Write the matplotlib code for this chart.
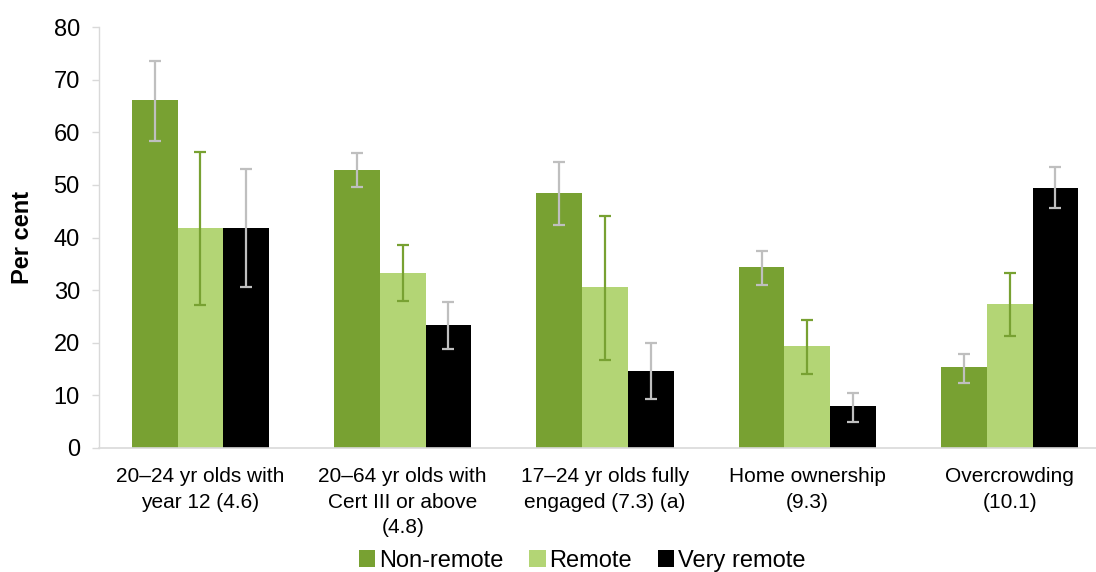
import matplotlib
matplotlib.use("Agg")
import matplotlib.pyplot as plt
import numpy as np

plt.rcParams['font.family'] = ['Liberation Sans', 'DejaVu Sans']

categories = [
    "20\u201324 yr olds with\nyear 12 (4.6)",
    "20\u201364 yr olds with\nCert III or above\n(4.8)",
    "17\u201324 yr olds fully\nengaged (7.3) (a)",
    "Home ownership\n(9.3)",
    "Overcrowding\n(10.1)",
]
series_names = ["Non-remote", "Remote", "Very remote"]

non_remote = [66.1, 52.9, 48.5, 34.3, 15.3]
non_remote_lo = [58.4, 49.6, 42.4, 30.9, 12.4]
non_remote_hi = [73.6, 56.0, 54.4, 37.5, 17.9]

remote = [41.9, 33.3, 30.5, 19.3, 27.4]
remote_lo = [27.2, 27.9, 16.7, 14.0, 21.3]
remote_hi = [56.3, 38.5, 44.1, 24.3, 33.3]

very_remote = [41.9, 23.4, 14.7, 7.9, 49.5]
very_remote_lo = [30.5, 18.8, 9.3, 4.9, 45.6]
very_remote_hi = [53.0, 27.7, 20.0, 10.5, 53.4]

bar_colors = ["#78A132", "#B3D575", "#000000"]
err_colors = ["#BFBFBF", "#78A132", "#BFBFBF"]

fig = plt.figure(figsize=(10.96, 5.72), dpi=100)
ax = fig.add_axes([99.3 / 1096, 1 - 448 / 572, (1096 - 99.3) / 1096, (448 - 27) / 572])

x = np.arange(len(categories))
width = 0.226
vals = [non_remote, remote, very_remote]
los = [non_remote_lo, remote_lo, very_remote_lo]
his = [non_remote_hi, remote_hi, very_remote_hi]

for i, (v, lo, hi) in enumerate(zip(vals, los, his)):
    pos = x + (i - 1) * width
    v = np.array(v)
    yerr = np.vstack([v - np.array(lo), np.array(hi) - v])
    ax.bar(pos, v, width, color=bar_colors[i], label=series_names[i], zorder=2)
    ax.errorbar(pos, v, yerr=yerr, fmt='none', ecolor=err_colors[i],
                elinewidth=1.6, capsize=4.5, capthick=1.6, zorder=3)

step = 1096 - 99.3
span = step / 202.3
ax.set_xlim(-0.5, -0.5 + span)
ax.set_ylim(0, 80)
ax.set_yticks(np.arange(0, 81, 10))
ax.set_xticks(x)
ax.set_xticklabels(categories, fontsize=15, linespacing=1.42)
ax.tick_params(axis='x', length=0, pad=14)
ax.tick_params(axis='y', labelsize=17, length=5, color='#D9D9D9', width=1, pad=9)

for s in ['top', 'right']:
    ax.spines[s].set_visible(False)
ax.spines['left'].set_color('#D9D9D9')
ax.spines['bottom'].set_color('#D9D9D9')
ax.spines['left'].set_linewidth(1)
ax.spines['bottom'].set_linewidth(1.2)

ax.set_ylabel("Per cent", fontsize=17, fontweight='bold', labelpad=14)

leg = fig.legend(loc='center', bbox_to_anchor=(582 / 1096, 1 - 561 / 572), ncol=3,
                 frameon=False, fontsize=17, handlelength=0.7, handleheight=0.7,
                 handletextpad=0.15, columnspacing=1.1, borderaxespad=0)

fig.savefig("out.png", dpi=100)
